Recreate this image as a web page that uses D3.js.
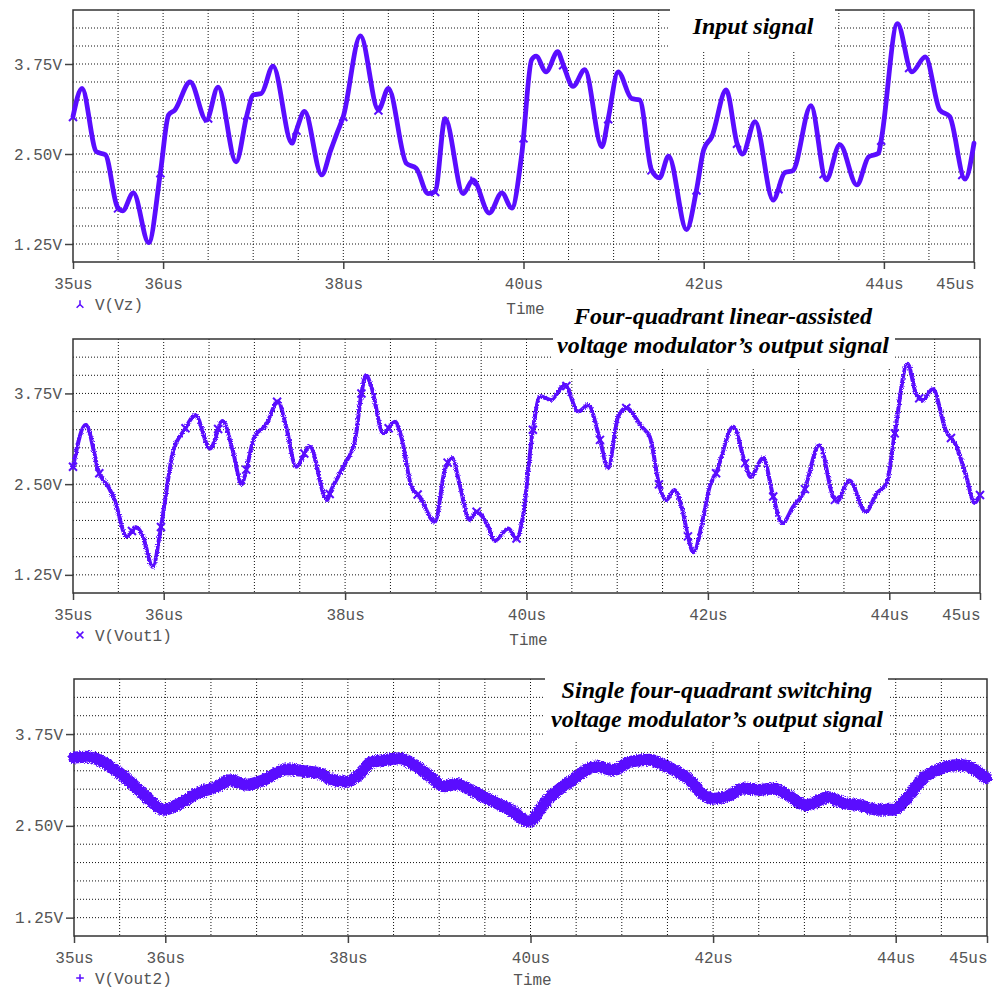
<!DOCTYPE html>
<html>
<head>
<meta charset="utf-8">
<script src="https://cdn.jsdelivr.net/npm/d3@7"></script>
<style>
  body { margin: 0; background: #fff; }
</style>
</head>
<body>
<div id="container"></div>
<script>
// ---- data (time in us, value in V) ----
let vzTime = [35.00,35.10,35.26,35.36,35.49,35.55,35.67,35.84,35.97,36.06,36.13,36.30,36.48,36.61,36.81,36.93,37.00,37.09,37.22,37.43,37.48,37.57,37.76,37.86,37.93,38.00,38.19,38.39,38.50,38.70,38.81,38.94,39.02,39.13,39.33,39.44,39.62,39.76,39.87,39.98,40.09,40.14,40.25,40.38,40.44,40.55,40.68,40.87,40.94,41.05,41.20,41.29,41.42,41.51,41.61,41.81,41.92,42.00,42.09,42.25,42.37,42.43,42.57,42.77,42.90,42.99,43.19,43.36,43.51,43.70,43.83,43.94,43.97,44.15,44.31,44.46,44.62,44.73,44.90,45.00];
let vzVolt = [3.02,3.41,2.53,2.49,1.77,1.71,1.96,1.27,2.24,3.04,3.11,3.50,2.97,3.43,2.39,3.04,3.32,3.34,3.72,2.65,2.83,3.09,2.21,2.55,2.79,3.02,4.14,3.11,3.41,2.37,2.30,1.95,1.98,2.99,1.95,2.14,1.68,1.96,1.75,2.49,3.81,3.86,3.64,3.92,3.74,3.44,3.67,2.60,2.99,3.64,3.27,3.25,2.28,2.17,2.47,1.45,2.00,2.56,2.74,3.39,2.65,2.50,2.95,1.86,2.24,2.27,3.17,2.14,2.63,2.07,2.46,2.51,2.69,4.31,3.64,3.85,3.11,3.02,2.15,2.65];

let vout1Time = [35.00,35.14,35.29,35.40,35.46,35.59,35.70,35.77,35.88,35.97,36.10,36.23,36.35,36.51,36.65,36.76,36.86,36.91,37.00,37.13,37.26,37.35,37.46,37.61,37.80,37.84,37.98,38.11,38.18,38.23,38.29,38.42,38.55,38.62,38.73,38.82,38.99,39.10,39.18,39.26,39.37,39.45,39.58,39.65,39.80,39.89,39.96,40.07,40.15,40.27,40.42,40.57,40.68,40.81,40.90,41.01,41.10,41.27,41.36,41.47,41.54,41.63,41.72,41.78,41.84,41.95,42.02,42.09,42.28,42.41,42.47,42.61,42.72,42.82,42.94,43.05,43.23,43.38,43.42,43.56,43.74,43.86,43.97,44.06,44.20,44.30,44.37,44.48,44.62,44.74,44.85,44.94,45.00];
let vout1Volt = [2.74,3.32,2.65,2.44,2.28,1.78,1.91,1.78,1.36,1.91,2.93,3.25,3.45,2.99,3.37,2.97,2.50,2.70,3.15,3.32,3.64,3.29,2.74,3.02,2.28,2.40,2.74,3.11,3.75,4.00,3.84,3.20,3.36,3.15,2.47,2.33,1.98,2.70,2.86,2.51,2.01,2.12,1.91,1.72,1.89,1.75,2.05,3.25,3.71,3.66,3.87,3.50,3.59,3.11,2.72,3.43,3.55,3.29,3.15,2.45,2.28,2.42,2.14,1.78,1.56,2.05,2.47,2.65,3.29,2.79,2.60,2.86,2.33,1.96,2.19,2.37,3.04,2.33,2.26,2.55,2.12,2.37,2.51,3.20,4.16,3.73,3.66,3.81,3.25,3.02,2.60,2.24,2.35];

let vout2Time = [35.00,35.14,35.25,35.43,35.65,35.83,35.98,36.12,36.38,36.56,36.71,36.89,37.07,37.33,37.55,37.69,37.80,37.99,38.10,38.26,38.43,38.57,38.75,38.90,39.05,39.19,39.34,39.56,39.78,39.98,40.18,40.43,40.73,40.91,41.09,41.31,41.42,41.60,41.75,41.86,42.00,42.15,42.33,42.51,42.66,42.84,43.02,43.26,43.43,43.61,43.79,43.97,44.12,44.30,44.49,44.70,44.85,44.99];
let vout2Volt = [3.43,3.44,3.41,3.28,3.06,2.85,2.72,2.78,2.96,3.03,3.12,3.06,3.12,3.27,3.24,3.22,3.14,3.10,3.17,3.37,3.40,3.42,3.31,3.17,3.04,3.07,2.99,2.85,2.72,2.56,2.85,3.10,3.31,3.26,3.37,3.40,3.35,3.24,3.12,2.96,2.87,2.90,3.01,2.99,3.01,2.90,2.78,2.89,2.81,2.78,2.72,2.72,2.87,3.15,3.28,3.33,3.28,3.15];

// where the probe markers sit along each trace
let vzMarks = [35.0,35.5,35.97,36.5,36.93,37.48,38.0,38.39,39.02,39.42,40.0,40.44,40.94,41.42,41.92,42.37,42.83,43.33,43.97,44.28,44.87];
let vout1Marks = [35.0,35.29,35.65,35.97,36.24,36.6,36.91,37.25,37.55,37.83,38.18,38.48,38.8,39.13,39.45,39.89,40.07,40.44,40.81,41.1,41.46,41.78,42.09,42.41,42.72,43.07,43.4,44.06,44.33,44.68,45.0];
let vout2Marks = [35.0,35.35,35.67,36.6,37.55,37.88,38.5,38.85,39.5,40.65,41.0,42.35,42.9,43.2];

// axis ticks
let timeTicks = [35, 36, 38, 40, 42, 44, 45];
let voltTicks = [1.25, 2.50, 3.75];
let timeGrid = d3.range(35.5, 45, 0.5);
let voltGrid = d3.range(1.25, 4.5, 0.25);

let w = 997;
let h = 990;
let traceColor = "#5a0dff";
let monoFont = "'Liberation Mono', 'Courier New', monospace";
let titleFont = "'Liberation Serif', 'Times New Roman', serif";

let svg = d3.select("#container")
  .append("svg")
    .attr("width", w)
    .attr("height", h)
;

// rough edges for the noisy outputs
let defs = svg.append("defs");
function roughFilter(id, freq, amount, seed){
  let f = defs.append("filter").attr("id", id)
    .attr("x", "-2%").attr("y", "-10%").attr("width", "104%").attr("height", "120%");
  f.append("feTurbulence")
    .attr("type", "fractalNoise")
    .attr("baseFrequency", freq)
    .attr("numOctaves", 2)
    .attr("seed", seed)
    .attr("result", "noise");
  f.append("feDisplacementMap")
    .attr("in", "SourceGraphic")
    .attr("in2", "noise")
    .attr("scale", amount)
    .attr("xChannelSelector", "R")
    .attr("yChannelSelector", "G");
}
roughFilter("rough1", 0.9, 3.5, 4);
roughFilter("rough2", 0.8, 5, 7);

let markShapes = {
  lambda: "M0,-4.5L0,0.5M0,0.5L-4,4.5M0,0.5L4,4.5",
  cross: "M-4,-4L4,4M-4,4L4,-4",
  plus: "M0,-6L0,6M-3,0L3,0"
};
let legendShapes = {
  lambda: "M0,-4.5L0,0.5M0,0.5L-4,4.5M0,0.5L4,4.5",
  cross: "M-4,-4L4,4M-4,4L4,-4",
  plus: "M0,-4.5L0,4.5M-4.5,0L4.5,0"
};

// find the point of a drawn trace at a given x
function pointAtX(node, px){
  let lo = 0, hi = node.getTotalLength();
  for (let k = 0; k < 40; k++){
    let mid = (lo + hi) / 2;
    if (node.getPointAtLength(mid).x < px) lo = mid; else hi = mid;
  }
  return node.getPointAtLength((lo + hi) / 2);
}

function drawPanel(p){
  let x = d3.scaleLinear().domain([35, 45]).range([p.left, p.right]);
  let y = d3.scaleLinear().domain([1, 4.5]).range([p.bottom, p.top]);
  let g = svg.append("g");

  // dotted grid
  g.selectAll(".vg").data(timeGrid).enter().append("line")
    .attr("x1", d => x(d)).attr("x2", d => x(d))
    .attr("y1", p.top).attr("y2", p.bottom)
    .attr("stroke", "#111").attr("stroke-width", 1)
    .attr("stroke-dasharray", "1,2");
  g.selectAll(".hg").data(voltGrid).enter().append("line")
    .attr("x1", p.left).attr("x2", p.right)
    .attr("y1", d => y(d)).attr("y2", d => y(d))
    .attr("stroke", "#111").attr("stroke-width", 1)
    .attr("stroke-dasharray", "1,2");

  // axes
  let xAxis = g.append("g")
    .attr("transform", "translate(0," + p.bottom + ")")
    .call(d3.axisBottom(x).tickValues(timeTicks).tickFormat(d => d + "us").tickSize(7));
  xAxis.selectAll("text").attr("y", 21).attr("dy", "0.35em")
    .attr("text-anchor", d => d == 45 ? "end" : "middle");
  let yAxis = g.append("g")
    .attr("transform", "translate(" + p.left + ",0)")
    .call(d3.axisLeft(y).tickValues(voltTicks).tickFormat(d => d3.format(".2f")(d) + "V").tickSize(8).tickPadding(3));
  [xAxis, yAxis].forEach(a => {
    a.select(".domain").remove();
    a.selectAll("line").attr("stroke", "#444").attr("stroke-width", 1.5);
    a.selectAll("text").attr("fill", "#555")
      .style("font-family", monoFont).style("font-size", "16px");
  });

  // frame
  g.append("rect")
    .attr("x", p.left).attr("y", p.top)
    .attr("width", p.right - p.left).attr("height", p.bottom - p.top)
    .attr("fill", "none").attr("stroke", "#333").attr("stroke-width", 1.5);

  // white box behind the title
  g.append("rect")
    .attr("x", p.box[0]).attr("y", p.box[1])
    .attr("width", p.box[2] - p.box[0]).attr("height", p.box[3] - p.box[1])
    .attr("fill", "#fff");
  p.title.forEach((t, i) => {
    g.append("text")
      .attr("x", p.titleX).attr("y", p.titleY + i * 29)
      .attr("text-anchor", "middle")
      .style("font-family", titleFont).style("font-size", "24px")
      .style("font-weight", "bold").style("font-style", "italic")
      .text(t);
  });

  // trace
  let data = p.times.map((t, i) => ({t: t, v: p.volts[i]}));
  let lineMaker = d3.line()
    .x(d => x(d.t))
    .y(d => y(d.v))
    .curve(d3.curveMonotoneX);
  let trace = g.append("path").datum(data)
    .attr("d", lineMaker)
    .attr("fill", "none")
    .attr("stroke", traceColor)
    .attr("stroke-width", p.lineWidth)
    .attr("stroke-linejoin", "round")
    .attr("stroke-linecap", "round");
  if (p.filter) trace.attr("filter", "url(#" + p.filter + ")");

  let node = trace.node();
  g.selectAll(".mk").data(p.marks).enter().append("path")
    .attr("d", markShapes[p.mark])
    .attr("transform", d => {
      let pt = pointAtX(node, x(d));
      return "translate(" + pt.x + "," + pt.y + ")";
    })
    .attr("fill", "none").attr("stroke", traceColor).attr("stroke-width", p.markWidth);

  // legend + time label
  g.append("path")
    .attr("d", legendShapes[p.mark])
    .attr("transform", "translate(80," + (p.bottom + 42) + ") scale(0.85)")
    .attr("fill", "none").attr("stroke", traceColor).attr("stroke-width", 1.8);
  g.append("text")
    .attr("x", 95).attr("y", p.bottom + 42).attr("dy", "0.35em")
    .attr("fill", "#555")
    .style("font-family", monoFont).style("font-size", "16px")
    .text(p.legend);
  g.append("text")
    .attr("x", (p.left + p.right) / 2 + 2).attr("y", p.bottom + p.timeGap).attr("dy", "0.35em")
    .attr("text-anchor", "middle")
    .attr("fill", "#555")
    .style("font-family", monoFont).style("font-size", "16px")
    .text("Time");
}

drawPanel({
  left: 73, right: 974, top: 10, bottom: 262, timeGap: 46,
  times: vzTime, volts: vzVolt, marks: vzMarks, mark: "lambda", markWidth: 2,
  lineWidth: 4.8, filter: null, legend: "V(Vz)",
  title: ["Input signal"], titleX: 753, titleY: 34, box: [670, 2, 835, 50]
});
drawPanel({
  left: 73, right: 980, top: 339, bottom: 593, timeGap: 46,
  times: vout1Time, volts: vout1Volt, marks: vout1Marks, mark: "cross", markWidth: 2,
  lineWidth: 4, filter: "rough1", legend: "V(Vout1)",
  title: ["Four-quadrant linear-assisted", "voltage modulator\u2019s output signal"],
  titleX: 723, titleY: 324, box: [553, 333, 895, 368]
});
drawPanel({
  left: 74, right: 987, top: 679, bottom: 936, timeGap: 43,
  times: vout2Time, volts: vout2Volt, marks: vout2Marks, mark: "plus", markWidth: 1.5,
  lineWidth: 12, filter: "rough2", legend: "V(Vout2)",
  title: ["Single four-quadrant switching", "voltage modulator\u2019s output signal"],
  titleX: 717, titleY: 698, box: [545, 673, 888, 742]
});
</script>
</body>
</html>
